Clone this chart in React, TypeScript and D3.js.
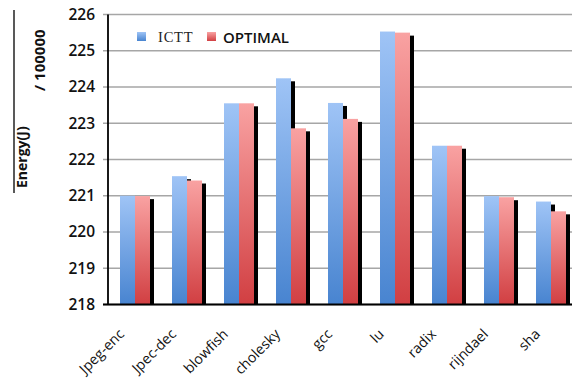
import React from "react";
import * as d3 from "d3";

const categories = ["Jpeg-enc", "Jpec-dec", "blowfish", "cholesky", "gcc", "lu", "radix", "rijndael", "sha"];
const ictt = [221.0, 221.54, 223.55, 224.24, 223.56, 225.53, 222.38, 220.99, 220.84];
const optimal = [220.99, 221.42, 223.55, 222.86, 223.12, 225.5, 222.38, 220.96, 220.57];
const yTicks = [218, 219, 220, 221, 222, 223, 224, 225, 226];
const seriesNames = ["ICTT", "OPTIMAL"];

const W = 575;
const H = 380;
const left = 108;
const right = 572;
const top = 14.5;
const bottom = 304.5;

export default function App() {
  const y = d3.scaleLinear().domain([218, 226]).range([bottom, top]);
  const x0 = d3.scaleBand<string>().domain(categories).range([left, left + categories.length * 52]);
  const x1 = d3.scaleBand<string>().domain(seriesNames).range([12, 42]);
  const series = [ictt, optimal];
  const grads = ["gBlue", "gRed"];

  return (
    <svg width={W} height={H} style={{ position: "absolute", left: 0, top: 0, background: "#fff" }}>
      <defs>
        <linearGradient id="gBlue" x1="0" y1="0" x2="0" y2="1">
          <stop offset="0%" stopColor="#9fc4f6" />
          <stop offset="100%" stopColor="#4884d0" />
        </linearGradient>
        <linearGradient id="gRed" x1="0" y1="0" x2="0" y2="1">
          <stop offset="0%" stopColor="#f9a2a2" />
          <stop offset="100%" stopColor="#d13f42" />
        </linearGradient>
      </defs>

      {/* gridlines and tick marks */}
      {yTicks.map((t) => (
        <line key={t} x1={left - 5} x2={right} y1={y(t)} y2={y(t)} stroke="#a6a6a6" strokeWidth={1.6} />
      ))}

      {/* shadows behind the bars */}
      {categories.map((c, i) =>
        series.map((s, k) => (
          <rect
            key={`sh-${c}-${k}`}
            x={(x0(c) ?? 0) + (x1(seriesNames[k]) ?? 0) + 4}
            y={y(s[i]) + 3}
            width={x1.bandwidth()}
            height={bottom - y(s[i]) - 3}
            fill="#000"
          />
        ))
      )}

      {/* bars */}
      {categories.map((c, i) =>
        series.map((s, k) => (
          <rect
            key={`b-${c}-${k}`}
            x={(x0(c) ?? 0) + (x1(seriesNames[k]) ?? 0)}
            y={y(s[i])}
            width={x1.bandwidth()}
            height={bottom - y(s[i])}
            fill={`url(#${grads[k]})`}
          />
        ))
      )}

      {/* axes */}
      <line x1={left} x2={left} y1={top} y2={bottom} stroke="#000" strokeWidth={1.8} />
      <line x1={left - 5} x2={right} y1={bottom} y2={bottom} stroke="#000" strokeWidth={1.8} />

      {/* y tick labels */}
      {yTicks.map((t) => (
        <text
          key={`t-${t}`}
          x={95}
          y={y(t)}
          dy="0.35em"
          textAnchor="end"
          fontFamily="Open Sans, sans-serif"
          fontWeight={600}
          fontSize={15.5}
          fill="#111"
        >
          {t}
        </text>
      ))}

      {/* category labels */}
      {categories.map((c) => {
        const cx = (x0(c) ?? 0) + x0.bandwidth() / 2;
        return (
          <text
            key={`c-${c}`}
            transform={`translate(${cx - 9},${335}) rotate(-45)`}
            textAnchor="end"
            fontFamily="Open Sans, sans-serif"
            fontSize={14.2}
            fill="#111"
          >
            {c}
          </text>
        );
      })}

      {/* y axis title */}
      <line x1={14} x2={14} y1={10} y2={193} stroke="#222" strokeWidth={1.5} />
      <text
        transform="translate(27,188) rotate(-90)"
        fontFamily="Open Sans, sans-serif"
        fontWeight={700}
        fontSize={14}
        fill="#111"
      >
        Energy(J)
      </text>
      <text
        transform="translate(45,91) rotate(-90)"
        fontFamily="Open Sans, sans-serif"
        fontWeight={700}
        fontSize={15}
        fill="#111"
      >
        / 100000
      </text>

      {/* legend */}
      <rect x={137} y={32} width={9} height={9} fill="url(#gBlue)" />
      <text x={158} y={42} fontFamily="Liberation Serif, serif" fontSize={14.5} letterSpacing={0.8} fill="#222">
        ICTT
      </text>
      <rect x={207} y={32} width={9} height={9} fill="url(#gRed)" />
      <text x={223} y={43} fontFamily="Open Sans, sans-serif" fontWeight={600} fontSize={15} fill="#111">
        OPTIMAL
      </text>
    </svg>
  );
}
